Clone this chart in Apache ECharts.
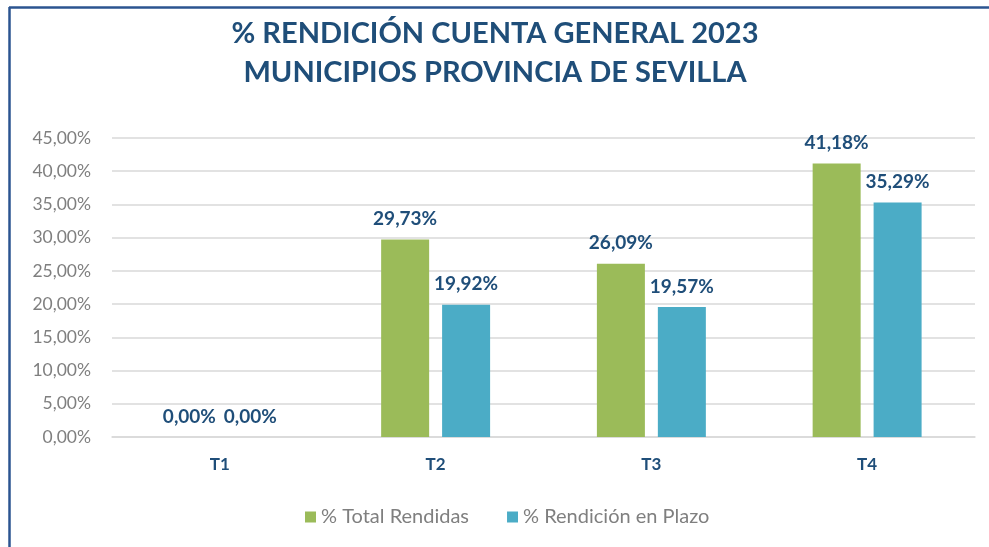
<!DOCTYPE html>
<html>
<head>
<meta charset="utf-8">
<script src="https://cdn.jsdelivr.net/npm/echarts@6/dist/echarts.min.js"></script>
<style>
  html, body { margin: 0; padding: 0; background: #fff; }
  #main { width: 989px; height: 547px; }
</style>
</head>
<body>
<div id="main"></div>
<script>
// datos del gráfico
var categorias = ['T1', 'T2', 'T3', 'T4'];
var totalRendidas = [0, 29.73, 26.09, 41.18];
var rendicionPlazo = [0, 19.92, 19.57, 35.29];
var nombresSeries = ['% Total Rendidas', '% Rendición en Plazo'];

var azul = '#1F4E79';
var fuente = 'Lato, "Noto Sans", sans-serif';

function pct(v) {
    return v.toFixed(2).replace('.', ',') + '%';
}

var myChart = echarts.init(document.getElementById('main'));

var etiqueta = {
    show: true,
    position: 'top',
    distance: 11,
    color: azul,
    fontWeight: 'bold',
    fontSize: 19,
    fontFamily: fuente,
    formatter: function (p) { return pct(p.value); }
};

var option = {
    animation: false,
    title: {
        text: '% RENDICIÓN CUENTA GENERAL 2023\nMUNICIPIOS PROVINCIA DE SEVILLA',
        left: 490,
        textAlign: 'center',
        top: 9,
        textStyle: {
            color: azul,
            fontSize: 29,
            fontWeight: 'bold',
            fontFamily: fuente,
            lineHeight: 39
        }
    },
    // marco del gráfico
    graphic: [
        {type: 'line', shape: {x1: 9.5, y1: 7, x2: 9.5, y2: 547}, style: {stroke: '#2B5490', lineWidth: 2.5}},
        {type: 'line', shape: {x1: 9, y1: 7.5, x2: 989, y2: 7.5}, style: {stroke: '#2B5490', lineWidth: 2.5}}
    ],
    legend: {
        data: nombresSeries,
        left: 300,
        top: 502,
        itemWidth: 11,
        itemHeight: 11,
        itemGap: 38,
        icon: 'rect',
        textStyle: {
            color: '#7F7F7F',
            fontSize: 20,
            fontFamily: fuente
        }
    },
    grid: {
        left: 112,
        right: 14,
        top: 138,
        bottom: 110
    },
    xAxis: {
        type: 'category',
        data: categorias,
        axisLine: {lineStyle: {color: '#D9D9D9', width: 1.5}},
        axisTick: {show: false},
        axisLabel: {
            color: azul,
            fontWeight: 'bold',
            fontSize: 17,
            fontFamily: fuente,
            margin: 19
        }
    },
    yAxis: {
        type: 'value',
        min: 0,
        max: 45,
        interval: 5,
        axisLine: {show: false},
        axisTick: {show: false},
        axisLabel: {
            color: '#7F7F7F',
            fontSize: 17.5,
            fontFamily: fuente,
            margin: 21,
            formatter: function (v) { return v.toFixed(2).replace('.', ',') + '%'; }
        },
        splitLine: {lineStyle: {color: '#D9D9D9', width: 1.5}}
    },
    series: [
        {
            name: nombresSeries[0],
            type: 'bar',
            data: totalRendidas,
            barWidth: 48,
            barGap: '27%',
            itemStyle: {color: '#9BBB59'},
            label: etiqueta
        },
        {
            name: nombresSeries[1],
            type: 'bar',
            data: rendicionPlazo,
            barWidth: 48,
            itemStyle: {color: '#4BACC6'},
            label: etiqueta
        }
    ]
};

myChart.setOption(option);
</script>
</body>
</html>
